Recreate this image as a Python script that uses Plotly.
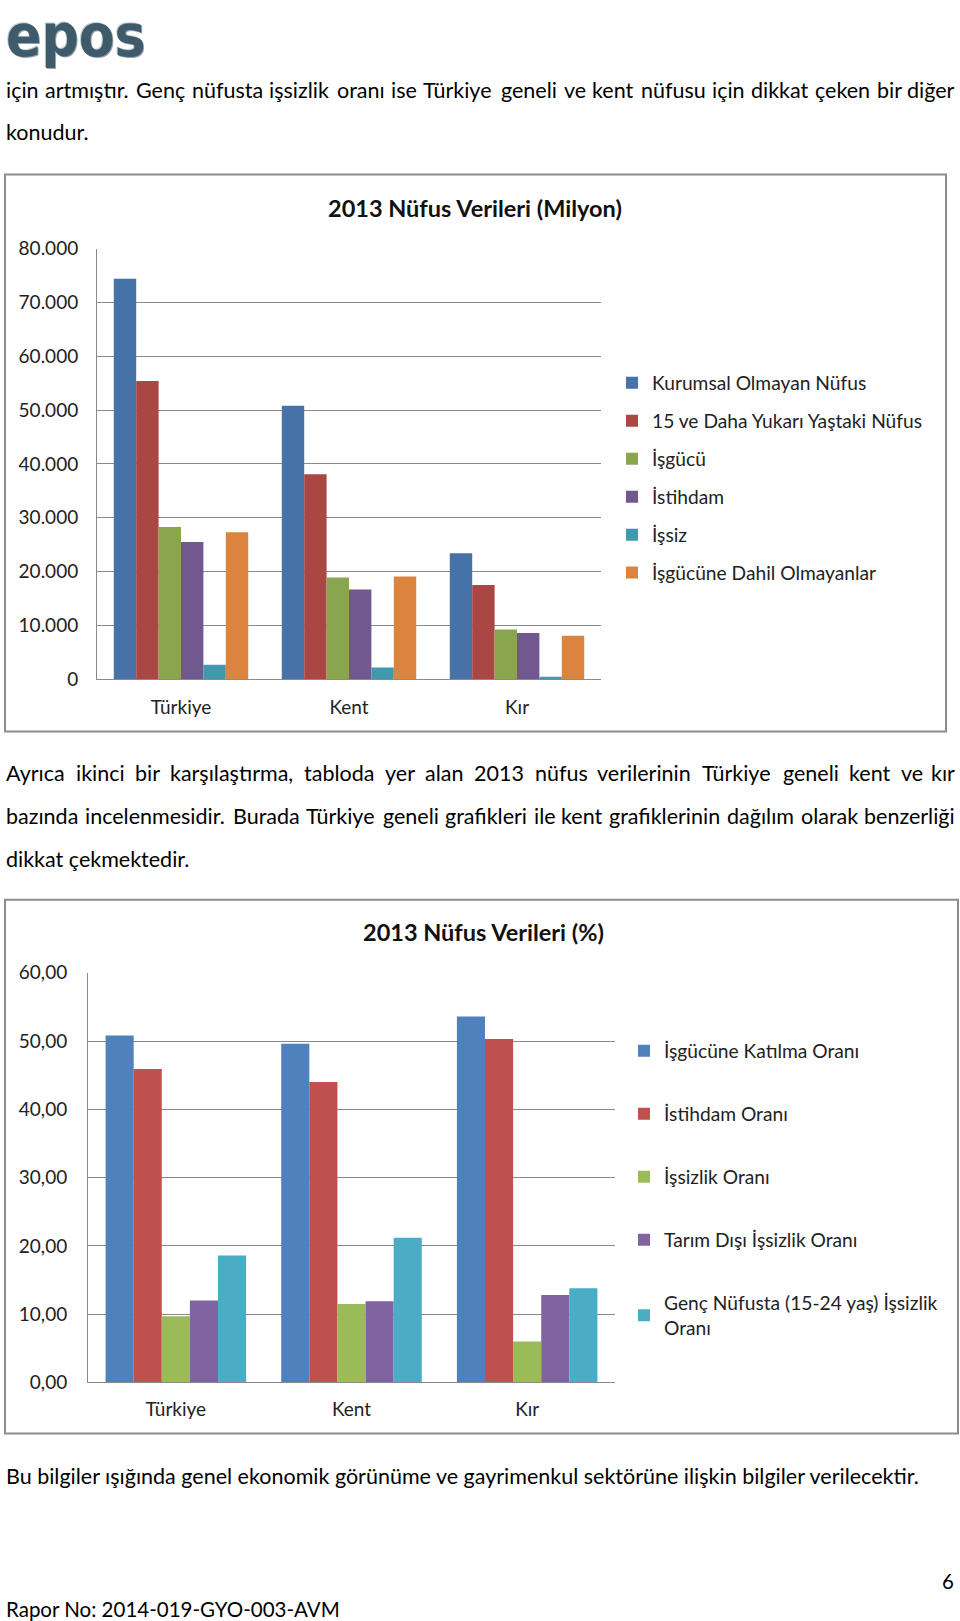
import plotly.graph_objects as go

W, H = 960, 1621

# ---------------- data ----------------
categories = ["Türkiye", "Kent", "Kır"]

# Chart 1: 2013 Nüfus Verileri (bin kişi)
c1_names = ["Kurumsal Olmayan Nüfus", "15 ve Daha Yukarı Yaştaki Nüfus", "İşgücü",
            "İstihdam", "İşsiz", "İşgücüne Dahil Olmayanlar"]
kurumsal_olmayan = [74400, 50800, 23400]
yas15_ustu = [55400, 38100, 17500]
isgucu = [28300, 18900, 9250]
istihdam = [25500, 16700, 8600]
issiz = [2700, 2200, 500]
isgucune_dahil_olmayan = [27300, 19100, 8100]
c1_values = [kurumsal_olmayan, yas15_ustu, isgucu, istihdam, issiz, isgucune_dahil_olmayan]
c1_colors = ["#4672A8", "#AA4644", "#89A54E", "#71588F", "#4198AF", "#DB843D"]
c1_ticks = [0, 10000, 20000, 30000, 40000, 50000, 60000, 70000, 80000]

# Chart 2: 2013 Nüfus Verileri (%)
c2_names = ["İşgücüne Katılma Oranı", "İstihdam Oranı", "İşsizlik Oranı",
            "Tarım Dışı İşsizlik Oranı", "Genç Nüfusta (15-24 yaş) İşsizlik<br>Oranı"]
katilma_orani = [50.8, 49.6, 53.6]
istihdam_orani = [45.9, 44.0, 50.3]
issizlik_orani = [9.7, 11.5, 6.0]
tarim_disi_issizlik = [12.0, 11.9, 12.8]
genc_issizlik = [18.6, 21.2, 13.8]
c2_values = [katilma_orani, istihdam_orani, issizlik_orani, tarim_disi_issizlik, genc_issizlik]
c2_colors = ["#4F81BD", "#C0504D", "#9BBB59", "#8064A2", "#4BACC6"]
c2_ticks = [0, 10, 20, 30, 40, 50, 60]

# page text
justified_lines = [
    ("için artmıştır. Genç nüfusta işsizlik oranı ise Türkiye geneli ve kent nüfusu için dikkat çeken bir diğer", 91),
    ("Ayrıca ikinci bir karşılaştırma, tabloda yer alan 2013 nüfus verilerinin Türkiye geneli kent ve kır", 773),
    ("bazında incelenmesidir. Burada Türkiye geneli grafikleri ile kent grafiklerinin dağılım olarak benzerliği", 815),
]
plain_lines = [
    ("konudur.", 133),
    ("dikkat çekmektedir.", 858),
    ("Bu bilgiler ışığında genel ekonomik görünüme ve gayrimenkul sektörüne ilişkin bilgiler verilecektir.", 1474),
]

# empirical vertical correction of the photographed page (rendered = OFF + SC * layout)
OFF, SC = 12.7, 0.9843


def px_x(p):
    return p / W


def px_y(p):
    return 1 - ((p - OFF) / SC) / H


FONT = "Lato, 'Open Sans', sans-serif"
GRID = "#8A8A8A"
BODY_SIZE = 21.5

fig = go.Figure()

for i, (name, vals, col) in enumerate(zip(c1_names, c1_values, c1_colors)):
    fig.add_trace(go.Bar(x=categories, y=vals, name=name, marker=dict(color=col, line=dict(width=0)),
                         xaxis="x", yaxis="y", legend="legend", legendgroup="a%d" % i))

for i, (name, vals, col) in enumerate(zip(c2_names, c2_values, c2_colors)):
    fig.add_trace(go.Bar(x=categories, y=vals, name=name, marker=dict(color=col, line=dict(width=0)),
                         xaxis="x2", yaxis="y2", legend="legend2", legendgroup="b%d" % i))

axis_common = dict(showline=True, linecolor=GRID, linewidth=1, ticks="",
                   tickfont=dict(family=FONT, size=19, color="#222"))

fig.update_layout(
    width=W, height=H,
    margin=dict(l=0, r=0, t=0, b=0),
    paper_bgcolor="white", plot_bgcolor="white",
    separators=",.",
    barmode="group", bargap=0.2, bargroupgap=0,
    font=dict(family=FONT, color="#111"),
    xaxis=dict(domain=[px_x(97), px_x(601)], anchor="y", ticklabelstandoff=11, **axis_common),
    yaxis=dict(domain=[px_y(679), px_y(249)], anchor="x", range=[0, 80000],
               tickvals=c1_ticks, tickformat=",d", showgrid=True, gridcolor=GRID, gridwidth=1,
               zeroline=False, ticklabelstandoff=14, **axis_common),
    xaxis2=dict(domain=[px_x(88), px_x(615)], anchor="y2", ticklabelstandoff=10, **axis_common),
    yaxis2=dict(domain=[px_y(1381), px_y(972)], anchor="x2", range=[0, 60],
                tickvals=c2_ticks, tickformat=".2f", showgrid=True, gridcolor=GRID, gridwidth=1,
                zeroline=False, ticklabelstandoff=16, **axis_common),
    legend=dict(x=px_x(612), xanchor="left", y=px_y(364), yanchor="top",
                font=dict(family=FONT, size=19.2, color="#222"), tracegroupgap=10,
                bgcolor="rgba(0,0,0,0)", itemclick=False),
    legend2=dict(x=px_x(624), xanchor="left", y=px_y(1031), yanchor="top",
                 font=dict(family=FONT, size=19.2, color="#222"), tracegroupgap=35,
                 bgcolor="rgba(0,0,0,0)", itemclick=False),
    showlegend=True,
)

# chart frames
fig.add_shape(type="rect", xref="paper", yref="paper", x0=px_x(5), x1=px_x(946), y0=px_y(731), y1=px_y(175),
              line=dict(color="#8C8C8C", width=2), layer="below")
fig.add_shape(type="rect", xref="paper", yref="paper", x0=px_x(5), x1=px_x(958), y0=px_y(1432), y1=px_y(899),
              line=dict(color="#8C8C8C", width=2), layer="below")

annotations = []


def text(s, x, y, size=BODY_SIZE, xanchor="left", bold=False, color="#000", family=FONT):
    annotations.append(dict(text=("<b>%s</b>" % s) if bold else s, x=px_x(x), y=px_y(y),
                            xref="paper", yref="paper", xanchor=xanchor, yanchor="middle",
                            showarrow=False, borderpad=0, font=dict(family=family, size=size, color=color)))


# approximate relative advance widths (em) of Lato Regular, used to justify lines
CW = {" ": 0.193, "a": 0.49, "b": 0.55, "c": 0.45, "ç": 0.45, "d": 0.55, "e": 0.51, "f": 0.32, "g": 0.50,
      "ğ": 0.50, "h": 0.55, "i": 0.24, "ı": 0.24, "j": 0.24, "k": 0.50, "l": 0.24, "m": 0.82, "n": 0.55,
      "o": 0.55, "ö": 0.55, "p": 0.55, "r": 0.36, "s": 0.42, "ş": 0.42, "t": 0.35, "u": 0.55, "ü": 0.55,
      "v": 0.50, "y": 0.50, "z": 0.45, "A": 0.68, "B": 0.62, "G": 0.70, "T": 0.56, ",": 0.22, ".": 0.22,
      "0": 0.58, "1": 0.58, "2": 0.58, "3": 0.58}


def est(s):
    return sum(CW.get(ch, 0.5) for ch in s)


# calibration: the last (unjustified) line renders ~913px wide at BODY_SIZE
calib = 913.0 / est(plain_lines[2][0])
LEFT, RIGHT = 5, 956

for line, y in justified_lines:
    words = line.split(" ")
    widths = [est(w) * calib for w in words]
    gap = (RIGHT - LEFT - sum(widths)) / (len(words) - 1)
    xpos = LEFT
    for j, (w, wd) in enumerate(zip(words, widths)):
        if j == len(words) - 1:
            text(w, RIGHT, y, xanchor="right")
        else:
            text(w, xpos, y)
        xpos += wd + gap

for line, y in plain_lines:
    text(line, LEFT, y)

# logo (kept fully inside the page)
annotations.append(dict(text="<b>epos</b>", x=px_x(5), y=px_y(2), xref="paper", yref="paper",
                        xanchor="left", yanchor="top", showarrow=False, borderpad=0,
                        font=dict(family="'DejaVu Sans Condensed', 'DejaVu Sans'", size=58, color="#3E5B6B",
                                  shadow="1px 1px 0 #9aa4aa, -1px -1px 0 #c8cdd0")))

text("6", 955, 1579, size=20.5, xanchor="right")
text("Rapor No: 2014-019-GYO-003-AVM", 5, 1607, size=20.5)

# chart titles
text("2013 Nüfus Verileri (Milyon)", 475, 208, size=23.5, xanchor="center", bold=True, color="#111")
text("2013 Nüfus Verileri (%)", 483, 931, size=23.5, xanchor="center", bold=True, color="#111")

fig.update_layout(annotations=annotations)

fig.write_html(
    "out.html",
    config={"displayModeBar": False},
    post_script=("document.body.style.margin='0';"
                 "var gd=document.getElementById('{plot_id}');"
                 "gd.style.position='absolute';gd.style.left='0px';gd.style.top='0px';"),
)
